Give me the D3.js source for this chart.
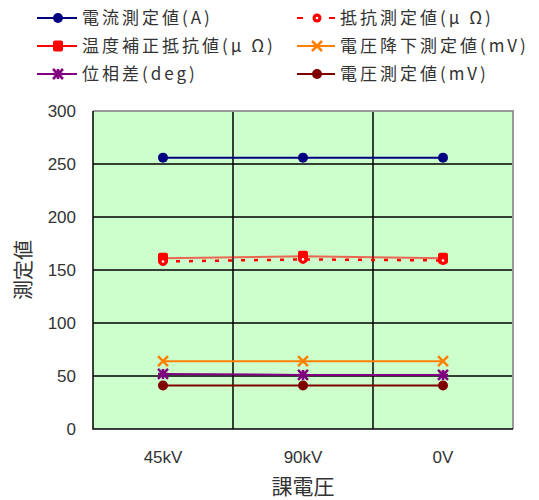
<!DOCTYPE html>
<html><head><meta charset="utf-8">
<script src="https://cdn.jsdelivr.net/npm/d3@7"></script>
<style>body{margin:0;background:#fff}text{font-family:"Noto Sans CJK JP",sans-serif;fill:#333}</style>
</head><body><svg id="c" width="539" height="500"></svg>
<script>
const categories = ["45kV","90kV","0V"];
const seriesNames = ["電流測定値(A)","抵抗測定値(μ Ω)","温度補正抵抗値(μ Ω)","電圧降下測定値(mV)","位相差(deg)","電圧測定値(mV)"];
const current = [256,256,256];
const resistance = [158,160,159];
const corrected = [161,163,161];
const vdrop = [64,64,64];
const phase = [52,51,51];
const voltage = [41,41,41];
const yTicks = [0,50,100,150,200,250,300];
const xTitle = "課電圧";
const yTitle = "測定値";

const series = [
 {name:seriesNames[0], values:current, color:"#000080", dash:null, marker:"circle"},
 {name:seriesNames[1], values:resistance, color:"#ff0000", dash:"4,9", marker:"ring"},
 {name:seriesNames[2], values:corrected, color:"#ff0000", dash:null, marker:"square"},
 {name:seriesNames[3], values:vdrop, color:"#ff8000", dash:null, marker:"x"},
 {name:seriesNames[4], values:phase, color:"#800080", dash:null, marker:"star"},
 {name:seriesNames[5], values:voltage, color:"#800000", dash:null, marker:"circle"}
];

const svg = d3.select("#c");
const L=93,R=513,T=111,B=429;
const x = d3.scaleBand().domain(categories).range([L,R]);
const y = d3.scaleLinear().domain([0,300]).range([B,T]);

svg.append("rect").attr("x",L).attr("y",T).attr("width",R-L).attr("height",B-T).attr("fill","#ccffcc");
svg.append("g").selectAll("line").data(yTicks.filter(d=>d>0&&d<300)).join("line")
 .attr("x1",L).attr("x2",R).attr("y1",d=>y(d)).attr("y2",d=>y(d)).attr("stroke","#000").attr("stroke-width",1.5);
svg.append("g").selectAll("line").data(categories.slice(1)).join("line")
 .attr("x1",d=>x(d)).attr("x2",d=>x(d)).attr("y1",T).attr("y2",B).attr("stroke","#000").attr("stroke-width",1.5);
svg.append("path").attr("d",`M${L},${T}H${R}V${B}`).attr("fill","none").attr("stroke","#999").attr("stroke-width",2);
svg.append("path").attr("d",`M${L},${T}V${B}H${R}`).attr("fill","none").attr("stroke","#000").attr("stroke-width",1.5);

const yAxis = d3.axisLeft(y).tickValues(yTicks).tickSize(0).tickPadding(17);
const gy = svg.append("g").attr("transform",`translate(${L},0)`).call(yAxis);
gy.select(".domain").remove();
gy.selectAll("text").style("font-size","17px").style("font-family","Liberation Sans, Arial, sans-serif").attr("fill","#333");
const xAxis = d3.axisBottom(x).tickSize(0).tickPadding(22);
const gx = svg.append("g").attr("transform",`translate(0,${B})`).call(xAxis);
gx.select(".domain").remove();
gx.selectAll("text").style("font-size","17px").style("font-family","Liberation Sans, Arial, sans-serif").attr("fill","#333");

svg.append("text").attr("x",(L+R)/2).attr("y",494).attr("text-anchor","middle").style("font-size","21px").text(xTitle);
svg.append("text").attr("transform","translate(31,270) rotate(-90)").attr("text-anchor","middle").style("font-size","20px").text(yTitle);

function marker(g, type, color, cx, cy){
  if(type==="circle"){ g.append("circle").attr("cx",cx).attr("cy",cy).attr("r",5).attr("fill",color); }
  else if(type==="ring"){ g.append("circle").attr("cx",cx).attr("cy",cy).attr("r",4.5).attr("fill",color);
    g.append("circle").attr("cx",cx).attr("cy",cy).attr("r",1.3).attr("fill","#fff"); }
  else if(type==="square"){ g.append("rect").attr("x",cx-5).attr("y",cy-5.5).attr("width",10).attr("height",11).attr("rx",2).attr("fill",color); }
  else if(type==="x"){ g.append("path").attr("d",`M${cx-5},${cy-5}L${cx+5},${cy+5}M${cx+5},${cy-5}L${cx-5},${cy+5}`).attr("stroke",color).attr("stroke-width",2.5); }
  else if(type==="star"){ g.append("path").attr("d",`M${cx-5},${cy-5}L${cx+5},${cy+5}M${cx+5},${cy-5}L${cx-5},${cy+5}M${cx-5},${cy}H${cx+5}M${cx},${cy-5}V${cy+5}`).attr("stroke",color).attr("stroke-width",2.5); }
}

const cx = d=>x(d)+x.bandwidth()/2;
const line = d3.line().x((v,i)=>cx(categories[i])).y(v=>y(v));
const plotOrder = [0,2,1,3,4,5];
plotOrder.forEach(si=>{
  const s=series[si];
  const g=svg.append("g");
  g.append("path").attr("d",line(s.values)).attr("fill","none").attr("stroke",s.color).attr("stroke-width",s.dash?2.5:2).attr("stroke-dasharray",s.dash).attr("opacity",si===2?0.6:1);
  s.values.forEach((v,i)=>marker(g,s.marker,s.color,cx(categories[i]),y(v)));
});

const legPos = [[37,18],[297,18],[37,46],[297,46],[37,74],[297,74]];
series.forEach((s,i)=>{
  const [lx,ly]=legPos[i];
  const w = i%2===0?40:38;
  const g=svg.append("g");
  g.append("line").attr("x1",lx).attr("x2",lx+w).attr("y1",ly).attr("y2",ly).attr("stroke",s.color).attr("stroke-width",2).attr("stroke-dasharray",s.dash?"6,10":null);
  marker(g,s.marker,s.color,lx+w/2+1,ly);
  g.append("text").attr("x",lx+w+5).attr("y",ly+6).style("font-size","17px").style("letter-spacing","3px").text(s.name);
});
</script></body></html>
